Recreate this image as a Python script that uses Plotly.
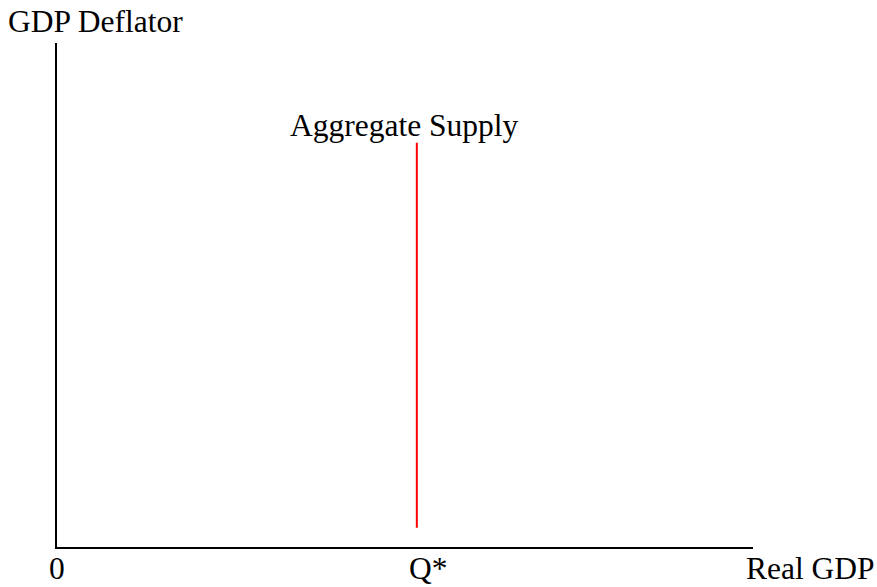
import plotly.graph_objects as go

# Data
q_star = 51.7               # position of potential output on the Real GDP axis
as_price_range = [3.8, 80.2]  # vertical extent of the AS line (GDP deflator)
x_label = "Real GDP"
y_label = "GDP Deflator"
curve_label = "Aggregate Supply"
tick_labels = ["0", "Q*"]

FONT = "Liberation Serif, Times New Roman, serif"
FS = 31.5

fig = go.Figure()
fig.add_trace(go.Scatter(
    x=[q_star, q_star], y=as_price_range, mode="lines",
    line=dict(color="#ff0000", width=2), hoverinfo="skip", showlegend=False))

fig.update_layout(
    width=877, height=587,
    margin=dict(l=57, r=124, t=43, b=40),
    paper_bgcolor="white", plot_bgcolor="white",
    xaxis=dict(range=[0, 100], showline=True, linecolor="black", linewidth=2,
               showgrid=False, zeroline=False, showticklabels=False, ticks=""),
    yaxis=dict(range=[0, 100], showline=True, linecolor="black", linewidth=2,
               showgrid=False, zeroline=False, showticklabels=False, ticks=""),
    font=dict(family=FONT, size=FS, color="black"),
    annotations=[
        dict(text=y_label, xref="paper", yref="paper", x=-57/696, y=1 + 21/504,
             xanchor="left", yanchor="middle", showarrow=False, xshift=6),
        dict(text=curve_label, xref="x", yref="y", x=q_star, y=as_price_range[1],
             xanchor="center", yanchor="bottom", showarrow=False, xshift=-12, yshift=-2),
        dict(text=tick_labels[0], xref="x", yref="paper", x=0, y=0,
             xanchor="center", yanchor="top", showarrow=False, yshift=-2),
        dict(text=tick_labels[1], xref="x", yref="paper", x=q_star, y=0,
             xanchor="left", yanchor="top", showarrow=False, xshift=-10, yshift=-2),
        dict(text=x_label, xref="paper", yref="paper", x=1, y=0,
             xanchor="left", yanchor="top", showarrow=False, xshift=-9, yshift=-2),
    ],
)

fig.write_html("out.html", config={"displayModeBar": False},
               post_script="document.body.style.margin='0';document.body.style.padding='0';")
